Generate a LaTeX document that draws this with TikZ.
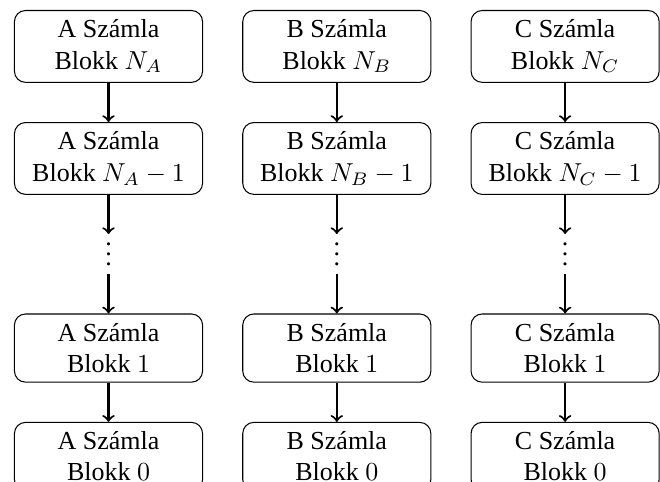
\documentclass[tikz,border=0pt]{standalone}
\usepackage[no-math]{fontspec}
\setmainfont{Liberation Serif}
\usetikzlibrary{positioning}

\begin{document}
\begin{tikzpicture}[
    node distance=0.53cm and 0.53cm,
    blk/.style={
      draw, rounded corners=1.5mm, align=center,
      minimum width=2.545cm, inner sep=3.6pt
    },
    vd/.style={inner sep=0pt, minimum height=0.53cm},
    fl/.style={->, thick}
  ]
    \useasboundingbox (0,0) rectangle (8.93,-6.51);

    % --- A számla ---
    \node[blk, anchor=north] (a0) at (1.468,-0.135) {A Számla\\Blokk $N_A$};
    \node[blk, below=of a0] (a1) {A Számla\\Blokk $N_A-1$};
    \node[vd,  below=of a1] (a2) {\raisebox{-4.5pt}[0pt][0pt]{$\vdots$}};
    \node[blk, below=of a2] (a3) {A Számla\\Blokk $1$};
    \node[blk, below=of a3] (a4) {A Számla\\Blokk $0$};

    \draw[fl] (a0) -- (a1);
    \draw[fl] (a1) -- (a2);
    \draw[fl] (a2) -- (a3);
    \draw[fl] (a3) -- (a4);

    % --- B számla ---
    \node[blk, right=of a0] (b0) {B Számla\\Blokk $N_B$};
    \node[blk, below=of b0] (b1) {B Számla\\Blokk $N_B-1$};
    \node[vd,  below=of b1] (b2) {\raisebox{-4.5pt}[0pt][0pt]{$\vdots$}};
    \node[blk, below=of b2] (b3) {B Számla\\Blokk $1$};
    \node[blk, below=of b3] (b4) {B Számla\\Blokk $0$};

    \draw[fl] (b0) -- (b1);
    \draw[fl] (b1) -- (b2);
    \draw[fl] (b2) -- (b3);
    \draw[fl] (b3) -- (b4);

    % --- C számla ---
    \node[blk, right=of b0] (c0) {C Számla\\Blokk $N_C$};
    \node[blk, below=of c0] (c1) {C Számla\\Blokk $N_C-1$};
    \node[vd,  below=of c1] (c2) {\raisebox{-4.5pt}[0pt][0pt]{$\vdots$}};
    \node[blk, below=of c2] (c3) {C Számla\\Blokk $1$};
    \node[blk, below=of c3] (c4) {C Számla\\Blokk $0$};

    \draw[fl] (c0) -- (c1);
    \draw[fl] (c1) -- (c2);
    \draw[fl] (c2) -- (c3);
    \draw[fl] (c3) -- (c4);
  \end{tikzpicture}
\end{document}
